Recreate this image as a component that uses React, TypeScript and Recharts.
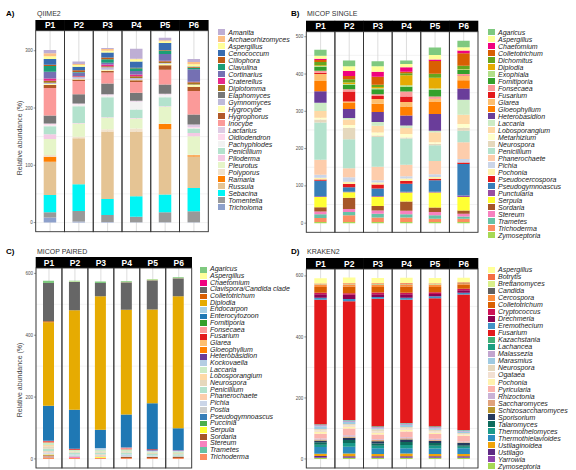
import React from "react";
import { BarChart, Bar, XAxis, YAxis, CartesianGrid } from "recharts";

const patients = ["P1", "P2", "P3", "P4", "P5", "P6"];

// A) QIIME2
const qiimeGenera = ["Amanita", "Archaeorhizomyces", "Aspergillus", "Cenococcum", "Cillophora", "Clavulina", "Cortinarius", "Craterellus", "Diplotomma", "Elaphomyces", "Gymnomyces", "Hygrocybe", "Hygrophorus", "Inocybe", "Lactarius", "Oidiodendron", "Pachyphlodes", "Penicillium", "Piloderma", "Pleurotus", "Polyporus", "Ramaria", "Russula", "Sebacina", "Tomentella", "Tricholoma"];
const qiimeColors = ["#BEAED4", "#FDC086", "#FFFF99", "#386CB0", "#BF5B17", "#1B9E77", "#7570B3", "#E7298A", "#A6761D", "#777777", "#BEBADA", "#FFFFB3", "#B15928", "#FB9A99", "#DECBE4", "#FDDAEC", "#F2F2F2", "#B3E2CD", "#F4CAE4", "#E6F5C9", "#F1E2CC", "#FF7F00", "#E5C494", "#00F5F5", "#999999", "#8DA0CB"];
const qiimeP1 = [6, 5, 5, 10, 2, 10, 12, 4, 3.5, 14, 2, 2, 5, 48, 1, 2, 2, 14, 8, 28, 3, 9, 58, 30, 9, 9];
const qiimeP2 = [4, 2, 3, 6, 3, 1, 6, 1, 1, 16, 3, 1, 3, 23, 1, 1, 3, 29, 1, 23, 3, 0, 80, 47, 18, 2];
const qiimeP3 = [2, 3, 3, 9, 3, 6, 3, 3, 2, 19, 4, 2, 3, 19, 1, 1, 3, 35, 1, 20, 4, 0, 118, 28, 12, 1];
const qiimeP4 = [17.5, 1, 4, 10.5, 1, 5, 6, 3, 3, 14, 3, 1, 3, 19, 1, 1, 13, 15, 1, 17.5, 5, 0, 113, 36, 9.5, 0.5];
const qiimeP5 = [4, 2, 3, 12, 1, 6, 12, 1, 3, 16, 1, 3, 7.5, 26, 1, 1, 4, 16, 1, 29, 1, 9, 114, 31, 17.5, 0.5];
const qiimeP6 = [5, 4, 4, 1, 1, 3, 21.5, 1, 4, 17.5, 1, 3, 7.5, 41, 4, 2, 1, 7.5, 6, 32, 1, 2, 55, 41, 19, 0.5];
// stacking top -> bottom; the grey Elaphomyces block sits under Inocybe in the figure
const qiimeStack = ["Amanita", "Archaeorhizomyces", "Aspergillus", "Cenococcum", "Cillophora", "Clavulina", "Cortinarius", "Craterellus", "Diplotomma", "Gymnomyces", "Hygrocybe", "Hygrophorus", "Inocybe", "Elaphomyces", "Lactarius", "Oidiodendron", "Pachyphlodes", "Penicillium", "Piloderma", "Pleurotus", "Polyporus", "Ramaria", "Russula", "Sebacina", "Tomentella", "Tricholoma"];

// B) MICOP SINGLE
const singleGenera = ["Agaricus", "Aspergillus", "Chaetomium", "Colletotrichum", "Dichomitus", "Diplodia", "Exophiala", "Fomitiporia", "Fonsecaea", "Fusarium", "Glarea", "Gloeophyllum", "Heterobasidion", "Laccaria", "Lobosporangium", "Metarhizium", "Neurospora", "Penicillium", "Phanerochaete", "Pichia", "Pochonia", "Pseudocercospora", "Pseudogymnoascus", "Punctularia", "Serpula", "Sordaria", "Stereum", "Trametes", "Trichoderma", "Zymoseptoria"];
const singleColors = ["#7FC97F", "#FFFF99", "#F0027F", "#D95F02", "#66A61E", "#E6AB02", "#B2DF8A", "#33A02C", "#FB9A99", "#E31A1C", "#FDBF6F", "#FF7F00", "#6A3D9A", "#CCEBC5", "#FED9A6", "#FFFFCC", "#E5D8BD", "#B3E2CD", "#FDCDAC", "#CBD5E8", "#FFF2AE", "#E41A1C", "#377EB8", "#984EA3", "#FFFF33", "#A65628", "#F781BF", "#66C2A5", "#FC8D62", "#A6D854"];
const singleP1 = [16, 8, 3.5, 5, 9, 2, 2, 11, 5, 3.5, 19, 27, 31, 22, 18, 5, 8, 100, 40, 8, 5, 3, 42, 2, 27, 12, 7, 10, 11, 3];
const singleP2 = [15, 13, 13, 9, 9, 4, 2, 12, 6, 27, 4, 16, 24, 4, 15, 7, 31, 78, 24, 12, 6, 9, 12, 1, 15, 30, 8, 9, 18, 3];
const singleP3 = [13, 15, 13, 22, 6, 3, 3, 13, 5, 8, 13, 22, 27, 10, 18, 8, 4, 80, 36, 6, 5, 11, 20, 2, 25, 12, 9, 10, 12, 3];
const singleP4 = [9, 9, 12, 4, 5, 27, 4, 13, 13, 15, 12, 24, 27, 7, 16, 9, 3, 70, 31, 6, 7, 7, 22, 2, 24, 25, 9, 9, 12, 3];
const singleP5 = [20, 12, 4, 34, 11, 29, 3, 18, 6, 1, 7, 33, 45, 4, 27, 4, 4, 42, 36, 7, 5, 4, 31, 2, 40, 12, 9, 9, 9, 3];
const singleP6 = [17, 9, 7, 34, 9, 1, 1, 11, 4, 1, 12, 22, 30, 40, 25, 10, 8, 31, 45, 9, 0, 4, 85, 4, 36, 9, 7, 6, 9, 3];

// C) MICOP PAIRED
const pairedGenera = ["Agaricus", "Aspergillus", "Chaetomium", "Clavispora/Candida clade", "Colletotrichum", "Diplodia", "Endocarpon", "Enterocytozoon", "Fomitiporia", "Fonsecaea", "Fusarium", "Glarea", "Gloeophyllum", "Heterobasidion", "Kockovaella", "Laccaria", "Lobosporangium", "Neurospora", "Penicillium", "Phanerochaete", "Pichia", "Postia", "Pseudogymnoascus", "Puccinia", "Serpula", "Sordaria", "Stereum", "Trametes", "Trichoderma"];
const pairedColors = ["#7FC97F", "#FFFF99", "#F0027F", "#666666", "#D95F02", "#E6AB02", "#A6CEE3", "#1F78B4", "#33A02C", "#FB9A99", "#E31A1C", "#FDBF6F", "#FF7F00", "#6A3D9A", "#B3CDE3", "#CCEBC5", "#FED9A6", "#E5D8BD", "#B3E2CD", "#FDCDAC", "#CBD5E8", "#CCCCCC", "#377EB8", "#4DAF4A", "#FFFF33", "#A65628", "#F781BF", "#66C2A5", "#FC8D62"];
const pairedP1 = [7.5, 0, 0, 124, 3, 270, 0, 113, 0, 2, 3, 0, 1, 0, 0, 8, 4, 8, 8, 4, 4, 3, 0, 0, 2, 3, 2, 2, 5];
const pairedP2 = [2, 2, 0, 91, 0, 322, 0, 126, 0, 0, 3, 0, 0, 0, 0, 5, 2, 3, 6, 0, 4, 4, 0, 0, 0, 0, 3, 0, 3];
const pairedP3 = [5, 0, 0, 43, 0, 432, 0, 59, 0, 0, 0, 0, 0, 0, 5, 5, 0, 5, 6, 4, 0, 3, 0, 0, 3, 0, 0, 0, 4];
const pairedP4 = [2, 2, 0, 89, 0, 338, 0, 107, 0, 3, 3, 0, 0, 0, 0, 6, 0, 5, 6, 0, 5, 3, 0, 0, 0, 3, 0, 0, 3];
const pairedP5 = [2, 2, 0, 95, 0, 303, 0, 149, 0, 0, 2, 0, 0, 2, 3, 4, 0, 4, 5, 0, 3, 2, 0, 0, 0, 3, 0, 0, 3];
const pairedP6 = [2, 2, 0, 58, 0, 427, 0, 70, 0, 0, 0, 0, 0, 2, 3, 5, 0, 4, 5, 0, 0, 4, 0, 0, 0, 3, 0, 0, 3];

// D) KRAKEN2
const krakenGenera = ["Aspergillus", "Botrytis", "Brettanomyces", "Candida", "Cercospora", "Colletotrichum", "Cryptococcus", "Drechmeria", "Eremothecium", "Fusarium", "Kazachstania", "Lachancea", "Malassezia", "Marasmius", "Neurospora", "Ogataea", "Pochonia", "Pyricularia", "Rhizoctonia", "Saccharomyces", "Schizosaccharomyces", "Sporisorium", "Talaromyces", "Thermothelomyces", "Thermothielavioides", "Ustilaginoidea", "Ustilago", "Yarrowia", "Zymoseptoria"];
const krakenColors = ["#FFFF99", "#F46D43", "#D9EF8B", "#5F5F5F", "#FD8D3C", "#D95F02", "#CE1256", "#8E0152", "#4292C6", "#E31A1C", "#41AE76", "#1C9E80", "#C2A5CF", "#9ECAE1", "#E5D8BD", "#F2E0D2", "#FFF2AE", "#FBB4AE", "#CAB2D6", "#E0A27C", "#B8962E", "#253A5E", "#0E6B5C", "#1A9A8A", "#2B8CBE", "#F0A30A", "#5E2A84", "#8E44AD", "#A6D854"];
const krakenP1 = [17.5, 2, 2, 1, 6.5, 18.5, 5.5, 11, 6.5, 408, 1, 1, 5, 9, 5, 5, 5, 16, 3, 3, 1, 5, 8, 8, 22, 7, 5, 2, 3];
const krakenP2 = [19, 3, 2, 1, 5, 22, 5, 14, 7, 389, 1, 1, 5, 6, 5, 5, 5, 22, 4, 4, 1, 7, 10, 12, 22, 9, 4, 2, 3];
const krakenP3 = [17.5, 2, 2, 1, 6.5, 18.5, 5.5, 9, 6, 418, 1, 1, 4, 4, 6, 6, 5, 15, 3, 3, 1, 7, 8, 8, 19, 7, 4, 2, 3];
const krakenP4 = [17.5, 2, 2, 1, 6.5, 20, 5, 12, 6, 404, 1, 1, 5, 6, 5, 5, 5, 19, 3, 3, 1, 8, 10, 11, 17, 9, 4, 2, 3];
const krakenP5 = [17.5, 2, 2, 1, 7, 18, 5, 8, 6, 420, 1, 1, 4, 5, 5, 5, 4, 16, 3, 3, 1, 7, 9, 9, 18, 7, 4, 2, 3];
const krakenP6 = [14, 2, 1, 1, 4, 14, 5, 8, 6, 444, 1, 1, 4, 4, 3, 3, 3, 19, 2, 2, 1, 7, 5, 5, 19, 7, 4, 2, 3];

const FONT = "'Liberation Sans', Arial, Helvetica, sans-serif";
const Y_W = 12;
const LEGEND_FONT = 7;

type Panel = {
  tag: string;
  title: string;
  genera: string[];
  colors: string[];
  values: number[][];
  stack?: string[];
  domain: [number, number];
  ticks: number[];
  minor: number[];
  chart: { left: number; top: number; width: number; height: number };
  plotLeft: number;
  plotRight: number;
  stripTop: number;
  plotTop: number;
  plotBottom: number;
  barSize: number;
  legend: { x: number; y0: number; step: number; maxRight?: number };
  yTitle?: { x: number; y: number };
};

const panels: Panel[] = [
  {
    tag: "A)", title: "QIIME2", genera: qiimeGenera, colors: qiimeColors,
    values: [qiimeP1, qiimeP2, qiimeP3, qiimeP4, qiimeP5, qiimeP6], stack: qiimeStack,
    domain: [-16, 335], ticks: [0, 100, 200, 300], minor: [50, 150, 250],
    chart: { left: 0, top: 0, width: 215, height: 236 },
    plotLeft: 35.7, plotRight: 208.3, stripTop: 20, plotTop: 30.7, plotBottom: 231.7, barSize: 12.5,
    legend: { x: 218.3, y0: 32.3, step: 7.0, maxRight: 290 }, yTitle: { x: 19.5, y: 138 },
  },
  {
    tag: "B)", title: "MICOP SINGLE", genera: singleGenera, colors: singleColors,
    values: [singleP1, singleP2, singleP3, singleP4, singleP5, singleP6],
    domain: [-24.5, 513.5], ticks: [0, 100, 200, 300, 400, 500], minor: [50, 150, 250, 350, 450],
    chart: { left: 288, top: 0, width: 200, height: 236 },
    plotLeft: 306.3, plotRight: 478, stripTop: 20.7, plotTop: 31.7, plotBottom: 232.3, barSize: 12.3,
    legend: { x: 488, y0: 32.3, step: 7.0 },
  },
  {
    tag: "C)", title: "MICOP PAIRED", genera: pairedGenera, colors: pairedColors,
    values: [pairedP1, pairedP2, pairedP3, pairedP4, pairedP5, pairedP6],
    domain: [-29.4, 617.4], ticks: [0, 200, 400, 600], minor: [100, 300, 500],
    chart: { left: 0, top: 236, width: 200, height: 234 },
    plotLeft: 36, plotRight: 191.7, stripTop: 257, plotTop: 268, plotBottom: 468, barSize: 11,
    legend: { x: 200, y0: 269.7, step: 6.69, maxRight: 290 }, yTitle: { x: 19.5, y: 380 },
  },
  {
    tag: "D)", title: "KRAKEN2", genera: krakenGenera, colors: krakenColors,
    values: [krakenP1, krakenP2, krakenP3, krakenP4, krakenP5, krakenP6],
    domain: [-29.6, 622.6], ticks: [0, 200, 400, 600], minor: [100, 300, 500],
    chart: { left: 288, top: 236, width: 200, height: 234 },
    plotLeft: 306.3, plotRight: 478, stripTop: 258, plotTop: 269, plotBottom: 468, barSize: 12.5,
    legend: { x: 488, y0: 269.7, step: 7.02 },
  },
];

let measureCtx: CanvasRenderingContext2D | null = null;
function textWidth(s: string): number {
  if (!measureCtx) measureCtx = document.createElement("canvas").getContext("2d");
  if (!measureCtx) return s.length * LEGEND_FONT * 0.5;
  measureCtx.font = `italic ${LEGEND_FONT}px ${FONT}`;
  return measureCtx.measureText(s).width;
}

function FacetChart({ p }: { p: Panel }) {
  const c = p.chart;
  const rows = patients.map((pt, i) => {
    const row: Record<string, string | number> = { patient: pt };
    p.genera.forEach((_, j) => {
      row[`s${j}`] = p.values[i][j];
    });
    return row;
  });
  const margin = {
    top: p.stripTop - c.top,
    left: p.plotLeft - c.left - Y_W,
    right: c.left + c.width - p.plotRight,
    bottom: c.top + c.height - p.plotBottom,
  };
  const plotW = p.plotRight - p.plotLeft;
  const stripH = p.plotTop - p.stripTop;
  const sTop = p.stripTop - c.top;
  const pTop = p.plotTop - c.top;
  const pH = p.plotBottom - p.plotTop;
  const order = (p.stack ?? p.genera).slice().reverse();

  const stripTick = (t: any) => {
    const fw = plotW / patients.length;
    const x0 = t.x - fw / 2;
    return (
      <g>
        <rect x={x0 - 0.3} y={sTop} width={fw + 0.6} height={stripH} fill="#000" />
        <text x={t.x} y={sTop + stripH / 2} dy="0.36em" textAnchor="middle" fill="#fff" fontSize={8.5} fontWeight={700}>
          {t.payload.value}
        </text>
        <rect x={x0} y={pTop} width={fw} height={pH} fill="none" stroke="#333" strokeWidth={0.9} />
      </g>
    );
  };

  return (
    <div style={{ position: "absolute", left: c.left, top: c.top }}>
      <BarChart width={c.width} height={c.height} data={rows} margin={margin} barSize={p.barSize}>
        <CartesianGrid vertical={false} horizontalValues={[...p.ticks, ...p.minor]} stroke="#ebebeb" strokeWidth={0.6} />
        <CartesianGrid horizontal={false} stroke="#d4d4d4" strokeWidth={0.8} />
        <XAxis dataKey="patient" orientation="top" height={stripH} axisLine={false} tickLine={false} interval={0} tick={stripTick} />
        <YAxis
          type="number"
          width={Y_W}
          domain={p.domain}
          ticks={p.ticks}
          allowDataOverflow
          axisLine={false}
          tickSize={2}
          tickMargin={1}
          tickLine={{ stroke: "#333", strokeWidth: 0.5 }}
          tick={{ fontSize: 4.5, fill: "#4d4d4d" }}
        />
        {order.map((g) => {
          const j = p.genera.indexOf(g);
          return <Bar key={g} dataKey={`s${j}`} stackId="all" fill={p.colors[j]} isAnimationActive={false} />;
        })}
      </BarChart>
    </div>
  );
}

function GenusLegend({ p }: { p: Panel }) {
  const { x, y0, step, maxRight } = p.legend;
  const textLeft = 10;
  return (
    <div style={{ position: "absolute", left: x, top: y0 - step / 2 }}>
      {p.genera.map((g, i) => {
        const w = textWidth(g);
        const room = maxRight ? maxRight - x - textLeft : Infinity;
        const squeeze = w > room ? room / w : 1;
        return (
          <div
            key={g}
            style={{ position: "absolute", left: 0, top: i * step, height: step, display: "flex", alignItems: "center", whiteSpace: "nowrap" }}
          >
            <span style={{ display: "inline-block", width: 7, height: step - 0.8, background: p.colors[i], marginRight: textLeft - 7 }} />
            <span
              style={{
                display: "inline-block",
                fontStyle: "italic",
                fontSize: LEGEND_FONT,
                lineHeight: `${step}px`,
                color: "#1a1a1a",
                transform: squeeze < 1 ? `scaleX(${squeeze})` : undefined,
                transformOrigin: "left center",
              }}
            >
              {g}
            </span>
          </div>
        );
      })}
    </div>
  );
}

export default function App() {
  return (
    <div style={{ position: "absolute", left: 0, top: 0, width: 576, height: 470, overflow: "hidden", background: "#fff", fontFamily: FONT }}>
      {panels.map((p) => (
        <React.Fragment key={p.tag}>
          <FacetChart p={p} />
          <GenusLegend p={p} />
        </React.Fragment>
      ))}
      <svg width={576} height={470} style={{ position: "absolute", left: 0, top: 0, pointerEvents: "none" }}>
        {panels.map((p) => (
          <g key={p.tag}>
            <text x={p.chart.left === 0 ? 6 : 291} y={p.chart.top === 0 ? 16 : 254} fontSize={8} fontWeight={700} fill="#000">
              {p.tag}
            </text>
            <text x={p.chart.left === 0 ? 37 : 307} y={p.chart.top === 0 ? 16 : 254} fontSize={7} fill="#333">
              {p.title}
            </text>
            {p.yTitle && (
              <text x={p.yTitle.x} y={p.yTitle.y} transform={`rotate(-90 ${p.yTitle.x} ${p.yTitle.y})`} textAnchor="middle" dy="0.35em" fontSize={7} fill="#444">
                Relative abundance (%)
              </text>
            )}
          </g>
        ))}
      </svg>
    </div>
  );
}
